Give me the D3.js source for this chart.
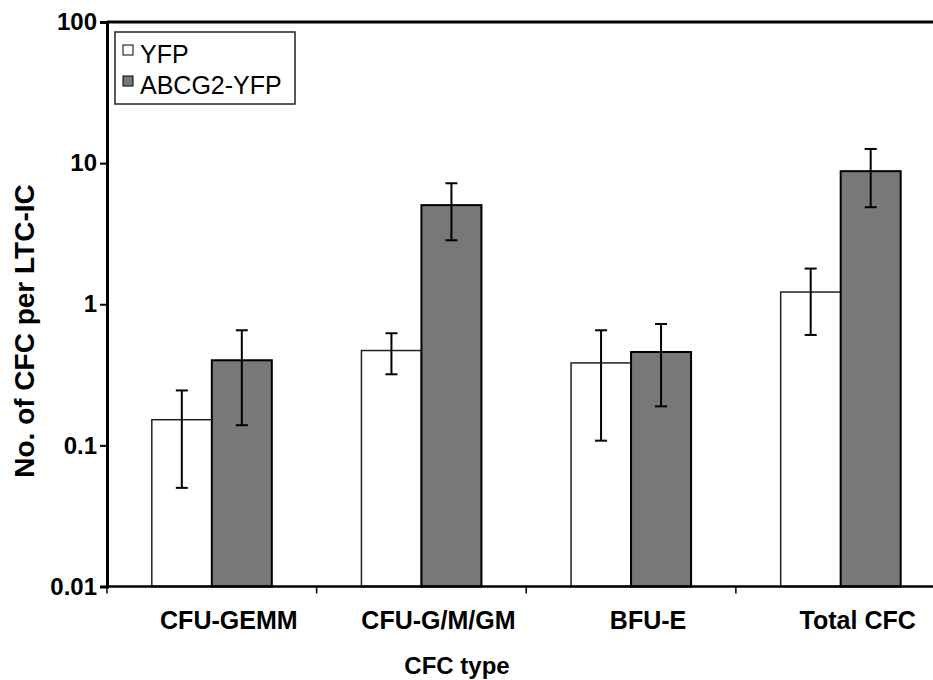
<!DOCTYPE html>
<html lang="en">
<head>
    <meta charset="UTF-8">
    <title>CFC per LTC-IC</title>
    <style>
        body { margin: 0; background: #fff; }
        svg { display: block; font-family: "Liberation Sans", Arial, sans-serif; }
    </style>
</head>
<body>
    <svg id="chart" width="933" height="680"></svg>
    <script src="https://d3js.org/d3.v7.min.js"></script>
    <script>
        // data
        const categories = ["CFU-GEMM", "CFU-G/M/GM", "BFU-E", "Total CFC"];
        const series = ["YFP", "ABCG2-YFP"];
        const yfpMean = [0.152, 0.47, 0.384, 1.22];
        const yfpLow = [0.05, 0.319, 0.108, 0.606];
        const yfpHigh = [0.245, 0.623, 0.654, 1.79];
        const abcgMean = [0.401, 5.04, 0.459, 8.77];
        const abcgLow = [0.139, 2.84, 0.189, 4.87];
        const abcgHigh = [0.654, 7.2, 0.725, 12.6];
        const yTicks = [0.01, 0.1, 1, 10, 100];

        const svg = d3.select("#chart"),
            width = +svg.attr("width"),
            height = +svg.attr("height");

        const mLeft = 107, mTop = 22, mBottom = 586.5, mRight = 945.5;
        const colors = { "YFP": "#ffffff", "ABCG2-YFP": "#787878" };

        const y = d3.scaleLog().domain([0.01, 100]).range([mBottom, mTop]);
        const x = d3.scaleBand().domain(categories).range([mLeft, mRight]);
        const xs = d3.scaleBand().domain(series).range([0, 120]);
        const groupOff = (x.bandwidth() - 120) / 2;

        const rows = [];
        categories.forEach((c, i) => {
            rows.push({ cat: c, s: "YFP", v: yfpMean[i], lo: yfpLow[i], hi: yfpHigh[i] });
            rows.push({ cat: c, s: "ABCG2-YFP", v: abcgMean[i], lo: abcgLow[i], hi: abcgHigh[i] });
        });

        // bars
        svg.append("g")
            .selectAll("rect")
            .data(rows)
            .join("rect")
                .attr("x", d => x(d.cat) + groupOff + xs(d.s))
                .attr("y", d => y(d.v))
                .attr("width", xs.bandwidth())
                .attr("height", d => mBottom - y(d.v))
                .attr("fill", d => colors[d.s])
                .attr("stroke", d => d.s === "YFP" ? "#222" : "#000")
                .attr("stroke-width", d => d.s === "YFP" ? 1.5 : 2);

        // error bars
        const eb = svg.append("g")
            .attr("stroke", "#000")
            .attr("stroke-width", 2)
            .selectAll("g")
            .data(rows)
            .join("g")
                .attr("transform", d => `translate(${x(d.cat) + groupOff + xs(d.s) + xs.bandwidth() / 2},0)`);
        eb.append("line").attr("y1", d => y(d.lo)).attr("y2", d => y(d.hi));
        eb.append("line").attr("x1", -6).attr("x2", 6).attr("y1", d => y(d.lo)).attr("y2", d => y(d.lo));
        eb.append("line").attr("x1", -6).attr("x2", 6).attr("y1", d => y(d.hi)).attr("y2", d => y(d.hi));

        // y axis
        const yAxis = svg.append("g")
            .attr("transform", `translate(${mLeft},0)`)
            .call(d3.axisLeft(y).tickValues(yTicks).tickFormat(d3.format("~g")).tickSize(7).tickPadding(3));
        yAxis.select(".domain").attr("stroke-width", 3);
        yAxis.selectAll(".tick line").attr("stroke-width", 2);
        yAxis.selectAll("text")
            .attr("font-size", 24)
            .attr("font-weight", "bold")
            .attr("font-family", "Liberation Sans, Arial, sans-serif")
            .attr("fill", "#000");

        // top frame line
        svg.append("line")
            .attr("x1", mLeft).attr("x2", width)
            .attr("y1", y(100)).attr("y2", y(100))
            .attr("stroke", "#000").attr("stroke-width", 3);

        // x axis
        const xAxis = svg.append("g");
        xAxis.append("line")
            .attr("x1", mLeft).attr("x2", width)
            .attr("y1", mBottom).attr("y2", mBottom)
            .attr("stroke", "#000").attr("stroke-width", 2.5);
        xAxis.selectAll(".xtick")
            .data(categories)
            .join("line")
                .attr("class", "xtick")
                .attr("x1", d => x(d)).attr("x2", d => x(d))
                .attr("y1", mBottom).attr("y2", mBottom + 7)
                .attr("stroke", "#000").attr("stroke-width", 1.5);
        xAxis.selectAll(".xlab")
            .data(categories)
            .join("text")
                .attr("class", "xlab")
                .attr("x", d => x(d) + x.bandwidth() / 2 + 17)
                .attr("y", 629)
                .attr("text-anchor", "middle")
                .attr("font-size", 25)
                .attr("font-weight", "bold")
                .text(d => d);

        // axis titles
        svg.append("text")
            .attr("x", 457)
            .attr("y", 674)
            .attr("text-anchor", "middle")
            .attr("font-size", 24)
            .attr("font-weight", "bold")
            .text("CFC type");

        svg.append("text")
            .attr("transform", "translate(34,331) rotate(-90)")
            .attr("text-anchor", "middle")
            .attr("font-size", 28)
            .attr("font-weight", "bold")
            .text("No. of CFC per LTC-IC");

        // legend
        const legend = svg.append("g");
        legend.append("rect")
            .attr("x", 115).attr("y", 32)
            .attr("width", 180).attr("height", 72)
            .attr("fill", "#fff")
            .attr("stroke", "#222").attr("stroke-width", 1.5);
        const li = legend.selectAll(".li")
            .data(series)
            .join("g")
                .attr("class", "li")
                .attr("transform", (d, i) => `translate(123,${45 + i * 31})`);
        li.append("rect")
            .attr("width", 10).attr("height", 10)
            .attr("fill", d => colors[d])
            .attr("stroke", "#000").attr("stroke-width", 1);
        li.append("text")
            .attr("x", 17).attr("y", 18)
            .attr("font-size", 25)
            .text(d => d);
    </script>
</body>
</html>
